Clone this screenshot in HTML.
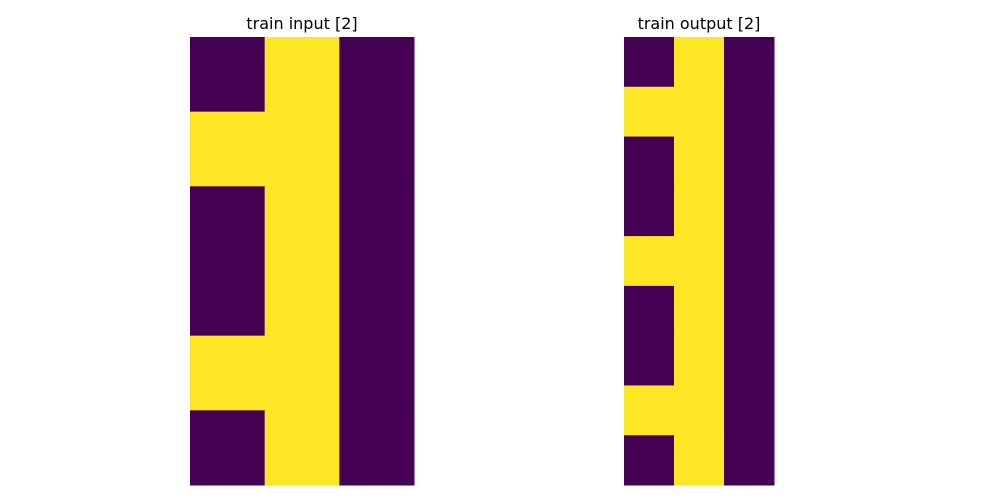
<!DOCTYPE html>
<html><head><meta charset="utf-8">
<style>
html,body{margin:0;padding:0;background:#fff;width:1000px;height:500px;overflow:hidden}
svg text{font-family:"DejaVu Sans","Liberation Sans",sans-serif;font-size:16px;fill:#000}
</style></head>
<body>
<svg id="chart" width="1000" height="500">
<text x="302" y="29" text-anchor="middle">train input [2]</text>
<text x="699" y="29" text-anchor="middle">train output [2]</text>
<g id="gin"></g>
<g id="gout"></g>
</svg>
<script>
const inputGrid = [[0,1,0],[1,1,0],[0,1,0],[0,1,0],[1,1,0],[0,1,0]];
const outputGrid = [[0,1,0],[1,1,0],[0,1,0],[0,1,0],[1,1,0],[0,1,0],[0,1,0],[1,1,0],[0,1,0]];
const colors = ["#440154","#fde725"];
function draw(gid, grid, x0, x1, y0, y1, name){
  const g = document.getElementById(gid);
  const rows = grid.length, cols = grid[0].length;
  const xs = c => x0 + (x1-x0)*c/cols;
  const ys = r => y0 + (y1-y0)*r/rows;
  grid.forEach((row,r)=>row.forEach((v,c)=>{
    const el = document.createElementNS("http://www.w3.org/2000/svg","rect");
    el.setAttribute("x", xs(c)); el.setAttribute("y", ys(r));
    el.setAttribute("width", xs(c+1)-xs(c)+0.5); el.setAttribute("height", ys(r+1)-ys(r)+0.5);
    el.setAttribute("fill", colors[v]);
    
    
    g.appendChild(el);
  }));
}
draw("gin", inputGrid, 190, 414, 37, 485, "input");
draw("gout", outputGrid, 624, 774, 37, 485, "output");
</script>
</body></html>
